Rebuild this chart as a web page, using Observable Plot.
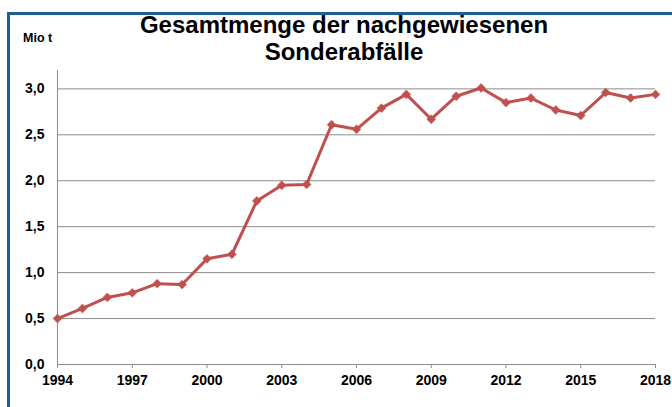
<!DOCTYPE html>
<html>
<head>
<meta charset="utf-8">
<script src="https://cdn.jsdelivr.net/npm/d3@7"></script>
<script src="https://cdn.jsdelivr.net/npm/@observablehq/plot@0.6"></script>
<style>
  html, body { margin: 0; padding: 0; background: #fff; }
  #wrap { position: relative; width: 672px; height: 407px; overflow: hidden; background: #fff;
          font-family: "Liberation Sans", Arial, sans-serif; }
  #frame { position: absolute; left: 7px; top: 12px; width: 720px; height: 450px;
           border: 3px solid #1f5f8f; box-sizing: border-box; }
  #title { position: absolute; left: 0; top: 11px; width: 688px; text-align: center;
           font-weight: bold; font-size: 24px; line-height: 27px; color: #000; }
  #unit { position: absolute; left: 23px; top: 31px; font-weight: bold; font-size: 12.5px; color: #000; }
  #chart { position: absolute; left: 0; top: 0; }
</style>
</head>
<body>
<div id="wrap">
  <div id="frame"></div>
  <div id="chart"></div>
  <div id="title">Gesamtmenge der nachgewiesenen<br>Sonderabfälle</div>
  <div id="unit">Mio t</div>
</div>
<script>
const years = [1994, 1995, 1996, 1997, 1998, 1999, 2000, 2001, 2002, 2003, 2004, 2005, 2006,
               2007, 2008, 2009, 2010, 2011, 2012, 2013, 2014, 2015, 2016, 2017, 2018];
const values = [0.50, 0.61, 0.73, 0.78, 0.88, 0.87, 1.15, 1.20, 1.78, 1.95, 1.96, 2.61, 2.56,
                2.79, 2.94, 2.67, 2.92, 3.01, 2.85, 2.90, 2.77, 2.71, 2.96, 2.90, 2.94];
const xTicks = [1994, 1997, 2000, 2003, 2006, 2009, 2012, 2015, 2018];
const yTicks = [0, 0.5, 1, 1.5, 2, 2.5, 3];

const data = years.map((year, i) => ({year, value: values[i]}));
const gray = "#8c8c8c";
const red = "#C0504D";

const chart = Plot.plot({
  width: 672,
  height: 407,
  marginLeft: 57,
  marginRight: 17,
  marginTop: 70,
  marginBottom: 43,
  style: {
    fontFamily: "'Liberation Sans', Arial, sans-serif",
    fontSize: "14px",
    fontWeight: "bold",
    color: "#000",
    background: "transparent"
  },
  x: {domain: [1994, 2018], label: null},
  y: {domain: [0, 3.2], label: null},
  marks: [
    Plot.gridY(yTicks.filter(d => d > 0), {stroke: gray, strokeOpacity: 1, strokeWidth: 1}),
    Plot.ruleX([1994], {stroke: gray, strokeWidth: 1}),
    Plot.ruleY([0], {stroke: gray, strokeWidth: 1}),
    Plot.axisX({ticks: xTicks, tickFormat: d => String(d), tickSize: 4, tickPadding: 7,
                stroke: gray, fill: "#000", label: null}),
    Plot.axisY({ticks: yTicks, tickFormat: d => d.toFixed(1).replace(".", ","), tickSize: 0,
                tickPadding: 13, fill: "#000", label: null}),
    Plot.line(data, {x: "year", y: "value", stroke: red, strokeWidth: 3}),
    Plot.dot(data, {x: "year", y: "value", symbol: "diamond2", r: 4, fill: red, stroke: red, strokeWidth: 0.5})
  ]
});
document.getElementById("chart").appendChild(chart);
</script>
</body>
</html>
